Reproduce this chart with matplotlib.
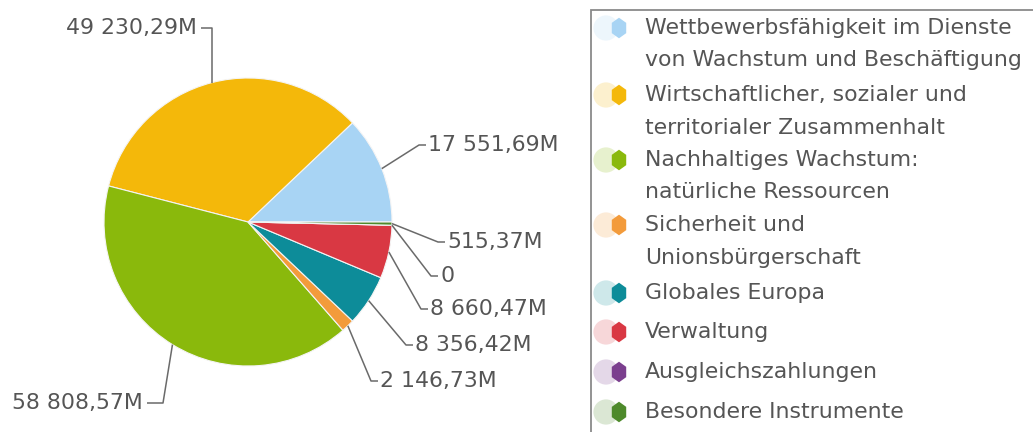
import numpy as np
import matplotlib
matplotlib.use("Agg")
import matplotlib.pyplot as plt
from matplotlib.patches import Rectangle

# ---- data ----
categories = [
    "Wettbewerbsfähigkeit im Dienste\nvon Wachstum und Beschäftigung",
    "Wirtschaftlicher, sozialer und\nterritorialer Zusammenhalt",
    "Nachhaltiges Wachstum:\nnatürliche Ressourcen",
    "Sicherheit und\nUnionsbürgerschaft",
    "Globales Europa",
    "Verwaltung",
    "Ausgleichszahlungen",
    "Besondere Instrumente",
]
values = [17551.69, 49230.29, 58808.57, 2146.73, 8356.42, 8660.47, 0.0, 515.37]
value_labels = ["17 551,69M", "49 230,29M", "58 808,57M", "2 146,73M",
                "8 356,42M", "8 660,47M", "0", "515,37M"]
colors = ["#A8D4F4", "#F4B80A", "#8AB90C", "#F39B3B",
          "#0D8C99", "#D93843", "#7B3F8E", "#4E8A2B"]

W, H = 1033, 432
fig = plt.figure(figsize=(W / 100, H / 100), dpi=100)
ax = fig.add_axes([0, 0, 1, 1])

cx, cy, R = 248, H - 222, 144
wedges, _ = ax.pie(values, colors=colors, startangle=0, counterclock=True,
                   center=(cx, cy), radius=R, frame=True,
                   wedgeprops=dict(edgecolor="#f4f4f4", linewidth=0.8))
ax.set_xlim(0, W)
ax.set_ylim(0, H)
ax.set_aspect("equal")
ax.axis("off")

txt_color = "#555555"
line_color = "#6a6a6a"
fs = 15.8

layout = {
    0: dict(tx=428, ty=145, ha="left"),
    1: dict(tx=197, ty=28, ha="right"),
    2: dict(tx=143, ty=403, ha="right"),
    3: dict(tx=380, ty=381, ha="left"),
    4: dict(tx=415, ty=345, ha="left"),
    5: dict(tx=430, ty=309, ha="left"),
    6: dict(tx=440, ty=276, ha="left"),
    7: dict(tx=447, ty=242, ha="left"),
}

for i, w in enumerate(wedges):
    mid = np.deg2rad((w.theta1 + w.theta2) / 2)
    ex, ey = cx + R * np.cos(mid), cy + R * np.sin(mid)
    L = layout[i]
    ty = H - L["ty"]
    if i == 1:
        xs = [L["tx"] + 4, ex, ex]
        ys = [ty, ty, ey]
    elif i == 2:
        xs = [L["tx"] + 4, L["tx"] + 20, ex]
        ys = [ty, ty, ey]
    else:
        xs = [ex, L["tx"] - 9, L["tx"] - 2]
        ys = [ey, ty, ty]
    ax.plot(xs, ys, color=line_color, lw=1.1, solid_capstyle="butt")
    ax.text(L["tx"], ty, value_labels[i], ha=L["ha"], va="center",
            fontsize=fs, color=txt_color, family="DejaVu Sans")

# ---- legend ----
ax.add_patch(Rectangle((591, -5), 500, H - 10 + 5, fill=False,
                       edgecolor="#8a8a8a", lw=1.3, clip_on=False))
tall_hex = [(0, 1), (0.7, 0.5), (0.7, -0.5), (0, -1), (-0.7, -0.5),
            (-0.7, 0.5), (0, 1)]
legend_y = [28, 95, 160, 225, 293, 332, 372, 412]
for i, cat in enumerate(categories):
    y = H - legend_y[i]
    lines = cat.split("\n")
    for j, ln in enumerate(lines):
        ax.text(645, y - j * 32.5, ln, ha="left", va="center",
                fontsize=fs, color=txt_color, family="DejaVu Sans")
    ax.scatter([606], [y], s=330, marker="o", color=colors[i], alpha=0.2,
               edgecolors="none")
    ax.scatter([619], [y], s=220, marker=tall_hex, color=colors[i],
               edgecolors="none")

fig.savefig("out.png", dpi=100)
